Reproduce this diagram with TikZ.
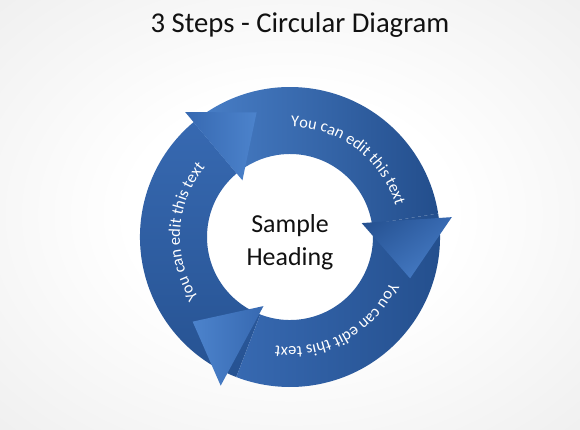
\documentclass[tikz,border=0pt]{standalone}
\usepackage{fontspec}
\setmainfont{Carlito}
\usetikzlibrary{calc,decorations.text,shadings}
\definecolor{bgin}{HTML}{FFFFFF}
\definecolor{bgout}{HTML}{E4E4E4}
\definecolor{ringlite}{HTML}{4C83CC}
\definecolor{ringmid}{HTML}{3769B1}
\definecolor{ringdark}{HTML}{234E8C}
\definecolor{inkdark}{HTML}{111111}
\pgfdeclareradialshading{bgglow}{\pgfpoint{0bp}{0bp}}{color(0bp)=(bgin); color(14bp)=(bgin); color(52bp)=(bgout)}
\tikzset{
  ringtext/.style={decorate, decoration={text along path, text align=center,
    text color=white, text={|\fontsize{16.5}{19}\selectfont|#1}}}
}

\begin{document}
\begin{tikzpicture}[x=1bp,y=1bp]
\useasboundingbox (0,0) rectangle (580,429);
\shade[shading=bgglow] (0,0) rectangle (580,429);
\node[font=\fontsize{28.8}{34}\selectfont, text=inkdark, anchor=base] (title) at (300,396) {3 Steps - Circular Diagram};
\coordinate (ctr) at (290,192);
\begin{scope}[shift={(ctr)}]
% ring pieces, clockwise
\shade[top color=ringmid, bottom color=ringdark!85!ringmid] (249:150) arc[start angle=249, end angle=130, radius=150] -- (130:83) arc[start angle=130, end angle=249, radius=83] -- cycle;
\shade[left color=ringlite!85!ringmid, right color=ringdark] (130:150) arc[start angle=130, end angle=9, radius=150] -- (9:83) arc[start angle=9, end angle=130, radius=83] -- cycle;
\shade[left color=ringmid, right color=ringdark] (9:150) arc[start angle=9, end angle=-111, radius=150] -- (-111:83) arc[start angle=-111, end angle=9, radius=83] -- cycle;
% arrow heads
\shade[left color=ringmid, right color=ringlite] (130:74) -- (130:163) -- (105:129) -- cycle;
\shade[upper left=ringdark, upper right=ringmid, lower left=ringmid, lower right=ringlite] (11:73) -- (7:163) -- (-19:127) -- cycle;
\shade[left color=ringlite, right color=ringmid] (249:74) -- (245:164) -- (221:129) -- cycle;
% labels on the ring
\path[ringtext={You can edit this text}] (103:110) arc[start angle=103, end angle=3, radius=110];
\path[ringtext={You can edit this text}] (227:110) arc[start angle=227, end angle=127, radius=110];
\path[ringtext={You can edit this text}] (-11:110) arc[start angle=-11, end angle=-111, radius=110];
\end{scope}
\node[font=\fontsize{26}{33}\selectfont, text=inkdark, align=center] (heading) at (290,187) {Sample\\Heading};
\end{tikzpicture}
\end{document}
